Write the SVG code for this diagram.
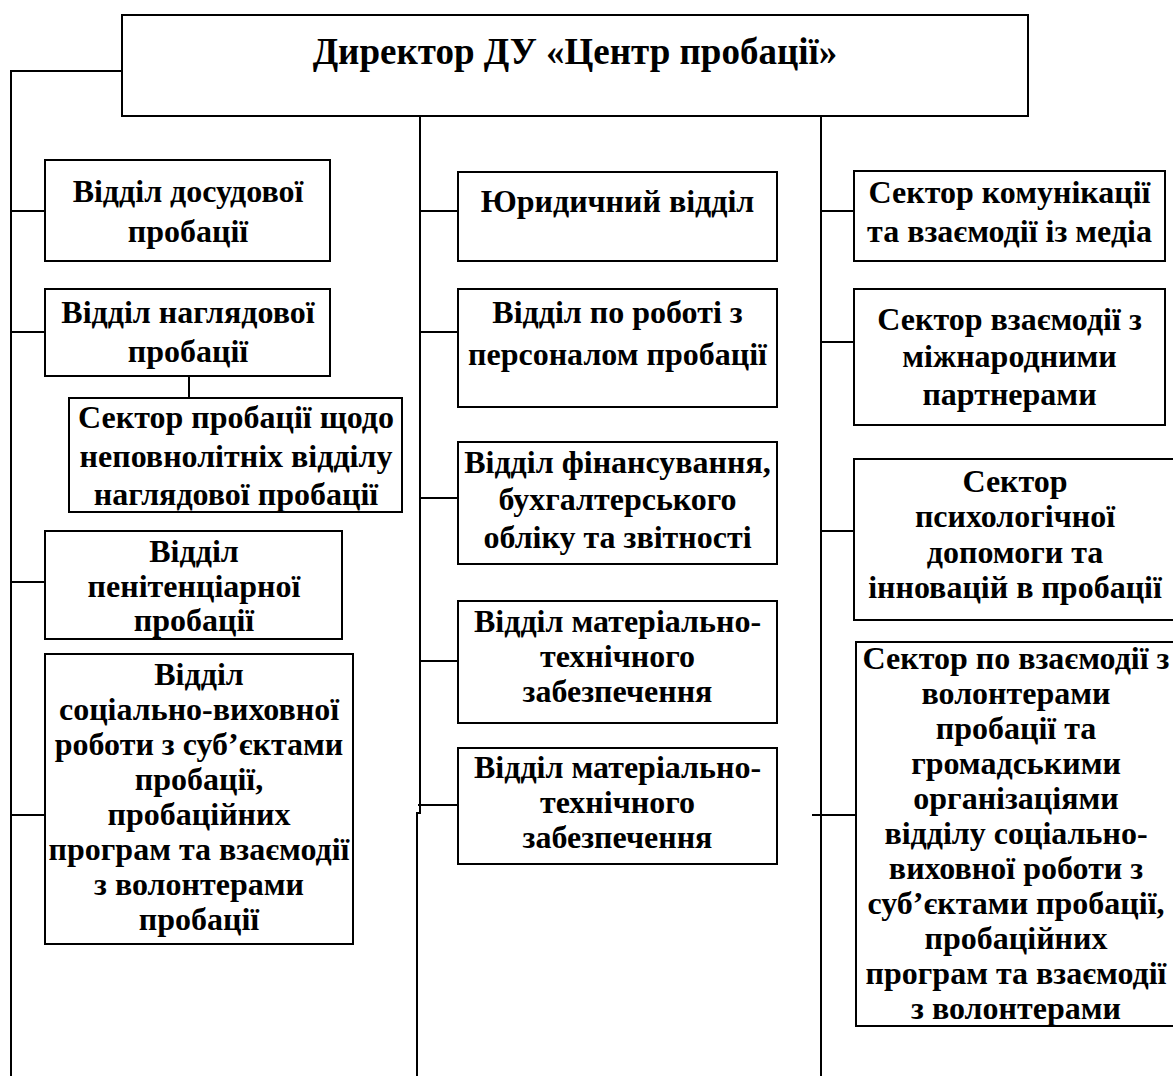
<svg xmlns="http://www.w3.org/2000/svg" width="1173" height="1076" viewBox="0 0 1173 1076">
<style>
.box{fill:#fff;stroke:#000;stroke-width:2}
.t{font-family:"Liberation Serif","Times New Roman",serif;font-weight:bold;font-size:32px;text-anchor:middle;fill:#000}
.title{font-size:37px}
.c{fill:none;stroke:#000;stroke-width:2}
</style>
<rect width="1173" height="1076" fill="#fff"/>
<g id="connectors">
<path class="c" d="M122,71 H11 V1076"/>
<path class="c" d="M11,211 H45 M11,332 H45 M11,582 H45 M11,815 H45"/>
<path class="c" d="M189,376 V398"/>
<path class="c" d="M420,116 V813 H417 V1076"/>
<path class="c" d="M420,211 H458 M420,332 H458 M420,498 H458 M420,661 H466 M418,805 H458"/>
<path class="c" d="M821,116 V1076"/>
<path class="c" d="M821,211 H857 M821,342 H854 M821,531 H854 M812,815 H857"/>
</g>
<g id="director">
<rect class="box" x="122" y="15" width="906" height="101"/>
<text class="t title" x="575" y="64">Директор ДУ «Центр пробації»</text>
</g>
<g id="n1">
<rect class="box" x="45" y="160" width="285" height="101"/>
<text class="t"><tspan x="188" y="202">Відділ досудової</tspan><tspan x="188" y="242">пробації</tspan></text>
</g>
<g id="n2">
<rect class="box" x="45" y="289" width="285" height="87"/>
<text class="t"><tspan x="188" y="323">Відділ наглядової</tspan><tspan x="188" y="362">пробації</tspan></text>
</g>
<g id="n3">
<rect class="box" x="69" y="398" width="333" height="114"/>
<text class="t"><tspan x="236" y="428">Сектор пробації щодо</tspan><tspan x="236" y="467">неповнолітніх відділу</tspan><tspan x="236" y="505">наглядової пробації</tspan></text>
</g>
<g id="n4">
<rect class="box" x="45" y="531" width="297" height="108"/>
<text class="t"><tspan x="194" y="562">Відділ</tspan><tspan x="194" y="597">пенітенціарної</tspan><tspan x="194" y="631">пробації</tspan></text>
</g>
<g id="n5">
<rect class="box" x="45" y="654" width="308" height="290"/>
<text class="t"><tspan x="199" y="685">Відділ</tspan><tspan x="199" y="720">соціально-виховної</tspan><tspan x="199" y="755">роботи з суб’єктами</tspan><tspan x="199" y="790">пробації,</tspan><tspan x="199" y="825">пробаційних</tspan><tspan x="199" y="860">програм та взаємодії</tspan><tspan x="199" y="895">з волонтерами</tspan><tspan x="199" y="930">пробації</tspan></text>
</g>
<g id="m1">
<rect class="box" x="458" y="172" width="319" height="89"/>
<text class="t" x="617.5" y="212">Юридичний відділ</text>
</g>
<g id="m2">
<rect class="box" x="458" y="289" width="319" height="118"/>
<text class="t"><tspan x="617.5" y="323">Відділ по роботі з</tspan><tspan x="617.5" y="365">персоналом пробації</tspan></text>
</g>
<g id="m3">
<rect class="box" x="458" y="442" width="319" height="122"/>
<text class="t"><tspan x="617.5" y="473">Відділ фінансування,</tspan><tspan x="617.5" y="510">бухгалтерського</tspan><tspan x="617.5" y="548">обліку та звітності</tspan></text>
</g>
<g id="m4">
<rect class="box" x="458" y="601" width="319" height="122"/>
<text class="t"><tspan x="617.5" y="632">Відділ матеріально-</tspan><tspan x="617.5" y="667">технічного</tspan><tspan x="617.5" y="702">забезпечення</tspan></text>
</g>
<g id="m5">
<rect class="box" x="458" y="748" width="319" height="116"/>
<text class="t"><tspan x="617.5" y="778">Відділ матеріально-</tspan><tspan x="617.5" y="813">технічного</tspan><tspan x="617.5" y="848">забезпечення</tspan></text>
</g>
<g id="r1">
<rect class="box" x="854" y="171" width="311" height="90"/>
<text class="t"><tspan x="1009.5" y="203">Сектор комунікації</tspan><tspan x="1009.5" y="242">та взаємодії із медіа</tspan></text>
</g>
<g id="r2">
<rect class="box" x="854" y="289" width="311" height="136"/>
<text class="t"><tspan x="1009.5" y="330">Сектор взаємодії з</tspan><tspan x="1009.5" y="367">міжнародними</tspan><tspan x="1009.5" y="405">партнерами</tspan></text>
</g>
<g id="r3">
<rect class="box" x="854" y="459" width="326" height="161"/>
<text class="t"><tspan x="1015" y="492">Сектор</tspan><tspan x="1015" y="527">психологічної</tspan><tspan x="1015" y="563">допомоги та</tspan><tspan x="1015" y="598">інновацій в пробації</tspan></text>
</g>
<g id="r4">
<rect class="box" x="856" y="642" width="324" height="384"/>
<text class="t"><tspan x="1016" y="669">Сектор по взаємодії з</tspan><tspan x="1016" y="704">волонтерами</tspan><tspan x="1016" y="739">пробації та</tspan><tspan x="1016" y="774">громадськими</tspan><tspan x="1016" y="809">організаціями</tspan><tspan x="1016" y="844">відділу соціально-</tspan><tspan x="1016" y="879">виховної роботи з</tspan><tspan x="1016" y="914">суб’єктами пробації,</tspan><tspan x="1016" y="949">пробаційних</tspan><tspan x="1016" y="984">програм та взаємодії</tspan><tspan x="1016" y="1019">з волонтерами</tspan></text>
</g>
</svg>
